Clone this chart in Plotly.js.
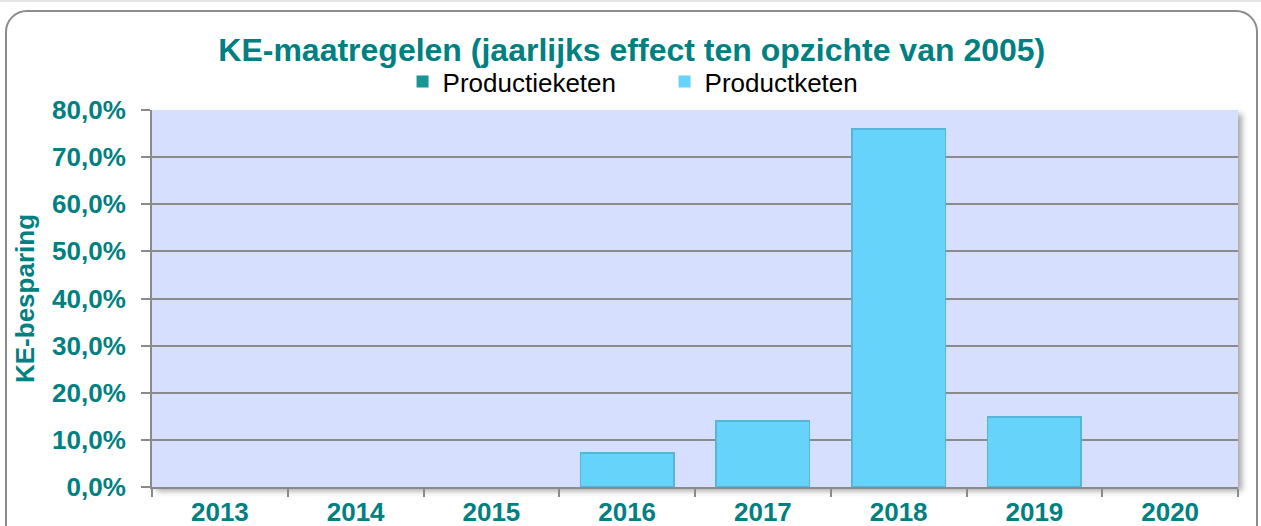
<!DOCTYPE html>
<html>
<head>
<meta charset="utf-8">
<script src="https://cdn.plot.ly/plotly-3.0.1.min.js"></script>
<style>
  html, body { margin: 0; padding: 0; background: #ffffff; overflow: hidden; }
  #wrap { position: relative; width: 1261px; height: 526px; }
  #chart { position: absolute; left: 0; top: 0; width: 1261px; height: 526px; }
  #frame { position: absolute; left: 5px; top: 10px; width: 1249px; height: 540px;
           border: 2px solid #8c8c8c; border-radius: 22px; pointer-events: none; }
  #topline { position: absolute; left: 0; top: 0; width: 1261px; height: 2px; background: #e6e6e6; }
  #shadow { position: absolute; left: 152px; top: 110px; width: 1086px; height: 377px;
            box-shadow: 4px 4px 6px rgba(0,0,0,0.35); background: #d6dffd; }
</style>
</head>
<body>
<div id="wrap">
  <div id="topline"></div>
  <div id="frame"></div>
  <div id="shadow"></div>
  <div id="chart"></div>
</div>
<script>
const categories = ["2013", "2014", "2015", "2016", "2017", "2018", "2019", "2020"];
const productieketen = [0, 0, 0, 0, 0, 0, 0, 0];
const productketen = [0, 0, 0, 0.072, 0.140, 0.760, 0.149, 0];
const yTickVals = [0, 0.1, 0.2, 0.3, 0.4, 0.5, 0.6, 0.7, 0.8];
const yTickText = ["0,0%", "10,0%", "20,0%", "30,0%", "40,0%", "50,0%", "60,0%", "70,0%", "80,0%"];

const teal = "#008080";
const font = "Liberation Sans, Arial, sans-serif";

const traces = [
  {
    type: "bar", name: "Productieketen", x: categories, y: productieketen,
    marker: { color: "#1a9696", line: { width: 0 } },
    hoverinfo: "skip"
  },
  {
    type: "bar", name: "Productketen", x: categories, y: productketen,
    marker: { color: "#66d3fb",
              line: { color: "#58b4d8", width: productketen.map(v => v > 0 ? 1.5 : 0) } },
    hoverinfo: "skip"
  }
];

const layout = {
  width: 1261, height: 526,
  margin: { l: 152, r: 23, t: 110, b: 39, pad: 0 },
  paper_bgcolor: "rgba(0,0,0,0)",
  plot_bgcolor: "#d6dffd",
  barmode: "stack",
  bargap: 0.31,
  showlegend: true,
  font: { family: font, color: teal },
  title: {
    text: "<b>KE-maatregelen (jaarlijks effect ten opzichte van 2005)</b>",
    font: { family: font, size: 32, color: teal },
    x: 0.501, xanchor: "center", xref: "container",
    y: 0.905, yanchor: "middle", yref: "container"
  },
  legend: {
    orientation: "h", x: 0.527, xanchor: "center", xref: "container",
    y: 0.845, yanchor: "middle", yref: "container",
    traceorder: "normal",
    font: { family: font, size: 26, color: "#000000" },
    entrywidth: 217, entrywidthmode: "pixels",
    itemwidth: 30, tracegroupgap: 0,
    bgcolor: "rgba(0,0,0,0)"
  },
  xaxis: {
    type: "category",
    tickfont: { family: font, size: 26, color: teal, weight: "bold" },
    ticklabelstandoff: 1,
    showline: true, linecolor: "#8a8a8a", linewidth: 2,
    ticks: "outside", tickson: "boundaries", ticklen: 8, tickcolor: "#8a8a8a", tickwidth: 2,
    showgrid: false, zeroline: false, fixedrange: true
  },
  yaxis: {
    range: [0, 0.8],
    tickvals: yTickVals, ticktext: yTickText,
    tickfont: { family: font, size: 26, color: teal, weight: "bold" },
    ticklabelstandoff: 10,
    showline: true, linecolor: "#8a8a8a", linewidth: 2,
    ticks: "outside", ticklen: 9, tickcolor: "#8a8a8a", tickwidth: 2,
    showgrid: true, gridcolor: "#8a8a8a", gridwidth: 2,
    zeroline: false, fixedrange: true,
    title: {
      text: "<b>KE-besparing</b>",
      font: { family: font, size: 26, color: teal },
      standoff: 10
    }
  }
};

Plotly.newPlot("chart", traces, layout, { displayModeBar: false, staticPlot: true });
</script>
</body>
</html>
